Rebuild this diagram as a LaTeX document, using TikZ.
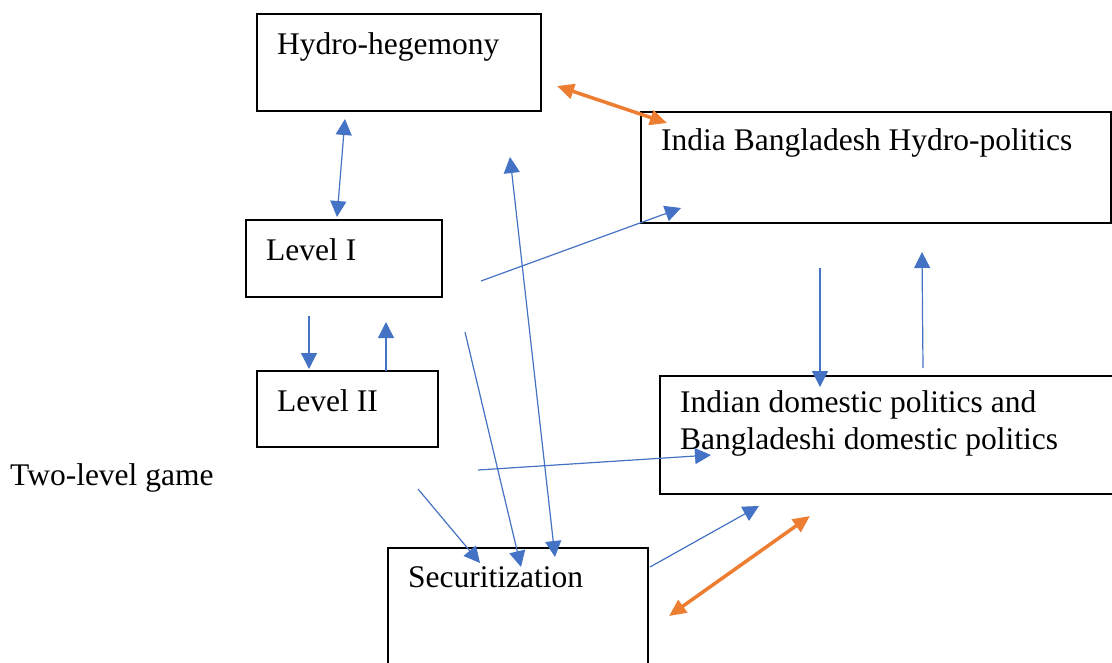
\documentclass[tikz,border=0pt]{standalone}
\usepackage{fontspec}
\setmainfont{Liberation Serif}
\usetikzlibrary{arrows.meta,calc}
\definecolor{ablue}{HTML}{4472C4}
\definecolor{aorange}{HTML}{ED7D31}
\begin{document}
\begin{tikzpicture}[x=1pt,y=-1pt,
  box/.style={draw=black,line width=1.8pt,rectangle,anchor=north west,inner sep=0pt},
  lbl/.style={font=\fontsize{31.5}{37}\selectfont,anchor=base west,inner sep=0pt,align=left},
  bl/.style={draw=ablue,line width=1.2pt,-{Triangle[length=16pt,width=16pt]}},
  bl2/.style={draw=ablue,line width=1.2pt,{Triangle[length=16pt,width=16pt]}-{Triangle[length=16pt,width=16pt]}},
  or2/.style={draw=aorange,line width=3.5pt,{Triangle[length=17pt,width=15pt]}-{Triangle[length=17pt,width=15pt]}}
]
\useasboundingbox (0,0) rectangle (1112,662);

% boxes
\node[box,minimum width=284pt,minimum height=97pt] (hh) at (256,13) {};
\node[box,minimum width=470pt,minimum height=111pt] (ib) at (640,111) {};
\node[box,minimum width=196pt,minimum height=77pt] (l1) at (245,219) {};
\node[box,minimum width=181pt,minimum height=76pt] (l2) at (256,370) {};
\node[box,minimum width=460pt,minimum height=118pt] (dom) at (659,375) {};
\node[box,minimum width=260pt,minimum height=130pt] (sec) at (387,547) {};

% texts
\node[lbl] (thh) at ($(hh.north west)+(21,41)$) {Hydro-hegemony};
\node[lbl] (tib) at ($(ib.north west)+(21,39)$) {India Bangladesh Hydro-politics};
\node[lbl] (tl1) at ($(l1.north west)+(21,41)$) {Level I};
\node[lbl] (tl2) at ($(l2.north west)+(21,41)$) {Level II};
\node[lbl,anchor=north west] (tdom) at ($(dom.north west)+(21,15)$) {Indian domestic politics and\\Bangladeshi domestic politics};
\node[lbl] (tsec) at ($(sec.north west)+(21,40)$) {Securitization};
\node[lbl] (tlg) at (10,485) {Two-level game};

% connector end points
\coordinate (a1) at (345,119);
\coordinate (a2) at (337,217);
\coordinate (b1) at (557,86);
\coordinate (b2) at (667,123);
\coordinate (c1) at (309,316);
\coordinate (c2) at (309,369);
\coordinate (d1) at (386,371);
\coordinate (d2) at (386,322);
\coordinate (e1) at (481,281);
\coordinate (e2) at (681,208);
\coordinate (f1) at (510,157);
\coordinate (f2) at (555,557);
\coordinate (g1) at (465,332);
\coordinate (g2) at (521,567);
\coordinate (h1) at (418,489);
\coordinate (h2) at (480,563);
\coordinate (i1) at (478,470);
\coordinate (i2) at (711,455);
\coordinate (j1) at (820,268);
\coordinate (j2) at (820,387);
\coordinate (k1) at (923,368);
\coordinate (k2) at (922,252);
\coordinate (l1s) at (650,567);
\coordinate (l2e) at (759,506);
\coordinate (m1) at (669,616);
\coordinate (m2) at (810,516);

% connectors
\draw[bl2] (a1) -- (a2);
\draw[or2] (b1) -- (b2);
\draw[bl] (c1) -- (c2);
\draw[bl] (d1) -- (d2);
\draw[bl] (e1) -- (e2);
\draw[bl2] (f1) -- (f2);
\draw[bl] (g1) -- (g2);
\draw[bl] (h1) -- (h2);
\draw[bl] (i1) -- (i2);
\draw[bl] (j1) -- (j2);
\draw[bl] (k1) -- (k2);
\draw[bl] (l1s) -- (l2e);
\draw[or2] (m1) -- (m2);
\end{tikzpicture}
\end{document}
